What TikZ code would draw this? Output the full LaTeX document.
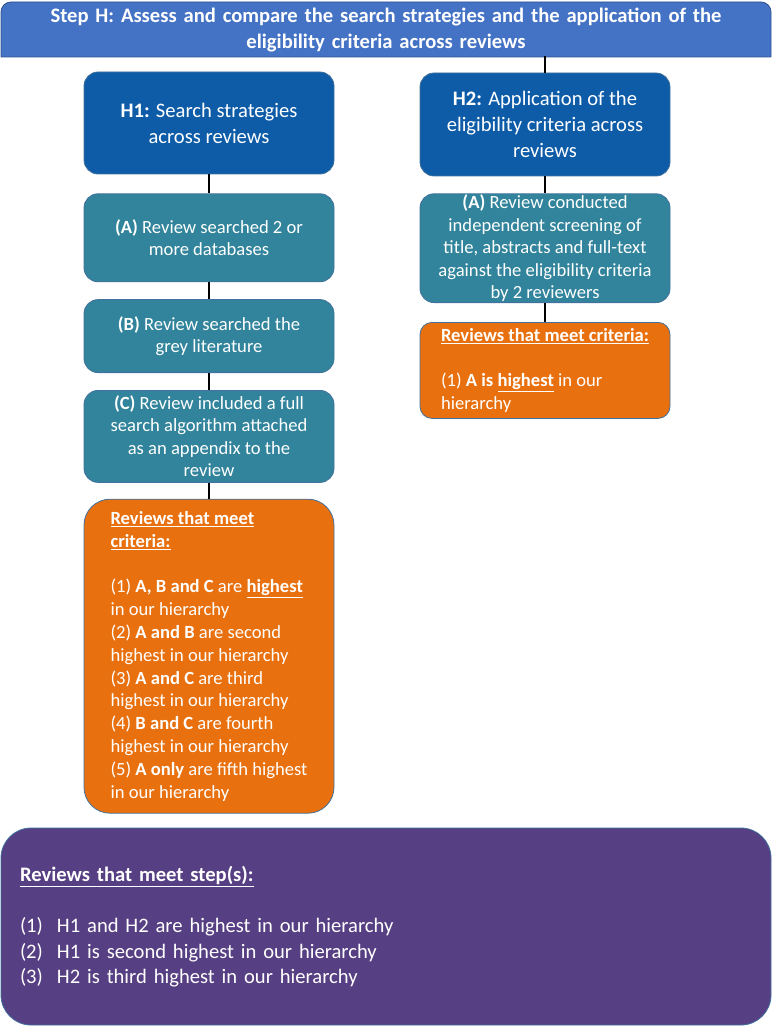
\documentclass[tikz,border=0pt]{standalone}
\usepackage{fontspec}
\setmainfont{Carlito}
\usetikzlibrary{positioning,backgrounds}
\definecolor{headblue}{HTML}{4472C4}
\definecolor{headedge}{HTML}{2F528F}
\definecolor{darkblue}{HTML}{0E5CA8}
\definecolor{tealbox}{HTML}{31849B}
\definecolor{orangebox}{HTML}{E8700E}
\definecolor{purplebox}{HTML}{563F82}
\definecolor{edgeblue}{HTML}{41719C}
\begin{document}
\begin{tikzpicture}[x=1pt, y=1pt,
    box/.style={draw=edgeblue, line width=0.8pt, rounded corners=14pt, text=white, align=center, inner sep=1pt},
    mainbox/.style={box, fill=darkblue, minimum width=250pt, font=\fontsize{20.6}{26}\selectfont},
    critbox/.style={box, fill=tealbox, minimum width=250pt, font=\fontsize{18.6}{22.5}\selectfont},
    resbox/.style={box, fill=orangebox, align=left, minimum width=250pt, font=\fontsize{18.6}{22.8}\selectfont},
    link/.style={line width=1.2pt}]
    \useasboundingbox (0,0) rectangle (772,-1027);
    % Place nodes
    \node[text=white, align=center, text width=760pt, font=\fontsize{20.6}{26}\selectfont\bfseries] (head) at (386,-30)
      {Step H: Assess and compare the search strategies and the application of the\\eligibility criteria across reviews};
    \begin{scope}[on background layer]
      \draw[fill=headblue, draw=headedge, line width=0.8pt] (1,-57) [rounded corners=10pt] -- (1,-2) -- (771,-2) [sharp corners] -- (771,-57) -- cycle;
    \end{scope}
    % H1 column
    \node[mainbox, minimum height=102pt] (h1) at (209,-123) {\textbf{H1:} Search strategies\\across reviews};
    \node[critbox, minimum height=88pt]  (h1a) [below = 19pt of h1]  {\textbf{(A)} Review searched 2 or\\more databases};
    \node[critbox, minimum height=73pt]  (h1b) [below = 17pt of h1a] {\textbf{(B)} Review searched the\\grey literature};
    \node[critbox, minimum height=92pt]  (h1c) [below = 17pt of h1b] {\textbf{(C)} Review included a full\\search algorithm attached\\as an appendix to the\\review};
    \node[resbox, minimum height=314pt, rounded corners=26pt] (h1res) [below = 16pt of h1c]
      {\textbf{\underline{Reviews that meet}}\\\textbf{\underline{criteria:}}\\[22.8pt]
       (1) \textbf{A, B and C} are \textbf{\underline{highest}}\\in our hierarchy\\
       (2) \textbf{A and B} are second\\highest in our hierarchy\\
       (3) \textbf{A and C} are third\\highest in our hierarchy\\
       (4) \textbf{B and C} are fourth\\highest in our hierarchy\\
       (5) \textbf{A only} are fifth highest\\in our hierarchy};
    % H2 column
    \node[mainbox, minimum height=103pt] (h2) at (545,-124.5) {\textbf{H2:} Application of the\\eligibility criteria across\\reviews};
    \node[critbox, minimum height=108pt] (h2a) [below = 17pt of h2]  {\textbf{(A)} Review conducted\\independent screening of\\title, abstracts and full-text\\against the eligibility criteria\\by 2 reviewers};
    \node[resbox, minimum height=96pt, rounded corners=12pt] (h2res) [below = 19pt of h2a]
      {\textbf{\underline{Reviews that meet criteria:}}\\[22.8pt]
       (1) \textbf{A is \underline{highest}} in our\\hierarchy};
    % Summary
    \node[box, fill=purplebox, rounded corners=30pt, align=left, text width=732pt, inner xsep=19pt, minimum height=197pt,
          font=\fontsize{20.6}{25.5}\selectfont] (summary) at (386,-926.5)
      {\textbf{\underline{Reviews that meet step(s):}}\\[26pt]
       \makebox[37pt][l]{(1)}H1 and H2 are highest in our hierarchy\\
       \makebox[37pt][l]{(2)}H1 is second highest in our hierarchy\\
       \makebox[37pt][l]{(3)}H2 is third highest in our hierarchy};
    % Create edges
      \draw[link] (head.south -| h2.north) -- (h2.north);
      \draw[link] (h1)  -- (h1a);
      \draw[link] (h1a) -- (h1b);
      \draw[link] (h1b) -- (h1c);
      \draw[link] (h1c) -- (h1res);
      \draw[link] (h2)  -- (h2a);
      \draw[link] (h2a) -- (h2res);
\end{tikzpicture}
\end{document}
